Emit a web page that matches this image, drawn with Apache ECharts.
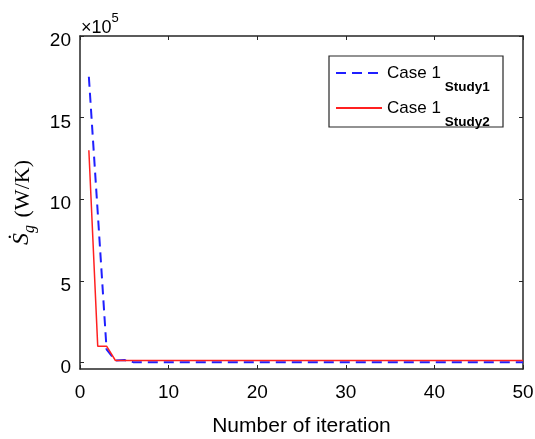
<!DOCTYPE html>
<html><head><meta charset="utf-8">
<script src="https://cdn.jsdelivr.net/npm/echarts@6/dist/echarts.min.js"></script>
<style>html,body{margin:0;padding:0;background:#fff}#c{width:535px;height:439px}</style>
</head><body><div id="c"></div>
<script>
var iterations = [1,2,3,4,5,6,7,8,9,10,11,12,13,14,15,16,17,18,19,20,21,22,23,24,25,26,27,28,29,30,31,32,33,34,35,36,37,38,39,40,41,42,43,44,45,46,47,48,49,50];
var study1 = [17.5,9.2,0.8,0.12,0.15,0.02,0.02,0.02,0.02,0.02,0.02,0.02,0.02,0.02,0.02,0.02,0.02,0.02,0.02,0.02,0.02,0.02,0.02,0.02,0.02,0.02,0.02,0.02,0.02,0.02,0.02,0.02,0.02,0.02,0.02,0.02,0.02,0.02,0.02,0.02,0.02,0.02,0.02,0.02,0.02,0.02,0.02,0.02,0.02,0.02];
var study2 = [13.0,1.0,1.0,0.12,0.12,0.12,0.12,0.12,0.12,0.12,0.12,0.12,0.12,0.12,0.12,0.12,0.12,0.12,0.12,0.12,0.12,0.12,0.12,0.12,0.12,0.12,0.12,0.12,0.12,0.12,0.12,0.12,0.12,0.12,0.12,0.12,0.12,0.12,0.12,0.12,0.12,0.12,0.12,0.12,0.12,0.12,0.12,0.12,0.12,0.12];
var xTicks = [0,10,20,30,40,50];
var yTicks = [0,5,10,15,20];
var seriesNames = ['Case 1 Study1','Case 1 Study2'];

function pairs(xs, ys){ return xs.map(function(x,i){ return [x, ys[i]]; }); }

var axisCol = '#262626';
var chart = echarts.init(document.getElementById('c'), null, {renderer:'canvas'});
var lbl = {color:'#000', fontFamily:'Liberation Sans, Arial', fontSize:19};
chart.setOption({
  animation:false,
  backgroundColor:'#fff',
  grid:{left:80, right:12, top:36, bottom:70, containLabel:false, outerBoundsMode:'none'},
  xAxis:[{
    type:'value', min:0, max:50, interval:10, position:'bottom',
    axisLine:{show:true, onZero:false, lineStyle:{color:axisCol, width:1.5}},
    axisTick:{show:true, inside:true, length:4, lineStyle:{color:axisCol}},
    axisLabel:Object.assign({margin:14}, lbl),
    splitLine:{show:false},
    name:'Number of iteration', nameLocation:'middle', nameGap:47,
    nameTextStyle:{color:'#000', fontFamily:'Liberation Sans, Arial', fontSize:21}
  },{
    type:'value', min:0, max:50, interval:10, position:'top',
    axisLine:{show:true, onZero:false, lineStyle:{color:axisCol, width:1.5}},
    axisTick:{show:true, inside:true, length:4, lineStyle:{color:axisCol}},
    axisLabel:{show:false}, splitLine:{show:false}
  }],
  yAxis:[{
    type:'value', min:-0.4, max:20, position:'left',
    axisLine:{show:true, onZero:false, lineStyle:{color:axisCol, width:1.5}},
    axisTick:{show:true, inside:true, length:4, customValues:yTicks, lineStyle:{color:axisCol}},
    axisLabel:{margin:9, customValues:yTicks,
      formatter:function(v){ return '{v|' + v + '}'; },
      rich:{v:{color:'#000', fontFamily:'Liberation Sans, Arial', fontSize:19, padding:[10,0,0,0]}}},
    splitLine:{show:false},
    name:'{s|\u1E60}{g|g}{u| (W/K)}', nameLocation:'middle', nameGap:40, nameRotate:90,
    nameTextStyle:{rich:{
      s:{fontFamily:'Liberation Serif, Times New Roman', fontStyle:'italic', fontSize:24, color:'#000', verticalAlign:'top', lineHeight:30},
      g:{fontFamily:'Liberation Serif, Times New Roman', fontStyle:'italic', fontSize:16, color:'#000', verticalAlign:'top', lineHeight:30, padding:[12,2,0,0]},
      u:{fontFamily:'Liberation Serif, Times New Roman', fontSize:22, color:'#000', verticalAlign:'top', lineHeight:30, padding:[2,0,0,0]}
    }}
  },{
    type:'value', min:-0.4, max:20, position:'right',
    axisLine:{show:true, onZero:false, lineStyle:{color:axisCol, width:1.5}},
    axisTick:{show:true, inside:true, length:4, customValues:yTicks, lineStyle:{color:axisCol}},
    axisLabel:{show:false}, splitLine:{show:false}
  }],
  legend:{
    show:true, orient:'vertical', left:335, top:48,
    backgroundColor:'transparent', borderWidth:0,
    padding:0, itemGap:-11, itemWidth:46, itemHeight:14,
    itemStyle:{color:'rgba(0,0,0,0)', borderWidth:0},
    data:seriesNames,
    formatter:function(n){ var p = n.split(' '); return '{a|' + p[0] + ' ' + p[1] + '}{b|' + p[2] + '}'; },
    textStyle:{rich:{
      a:{fontFamily:'Liberation Sans, Arial', fontSize:17, color:'#000', verticalAlign:'middle', lineHeight:50},
      b:{fontFamily:'Liberation Sans, Arial', fontSize:13.5, fontWeight:'bold', color:'#000', verticalAlign:'top', lineHeight:20, padding:[32,0,0,4]}
    }}
  },
  graphic:[{
    type:'rect', z:3, shape:{x:329, y:56, width:174, height:71},
    style:{fill:'#fff', stroke:axisCol, lineWidth:1.2}
  },{
    type:'text', left:81, top:12,
    style:{rich:{
      m:{fontFamily:'Liberation Sans, Arial', fontSize:18, fill:'#000', verticalAlign:'top', lineHeight:24, padding:[7,0,0,0]},
      e:{fontFamily:'Liberation Sans, Arial', fontSize:13, fill:'#000', verticalAlign:'top', lineHeight:24}
    }, text:'{m|\u00D710}{e|5}'}
  }],
  series:[{
    name:seriesNames[0], type:'line', showSymbol:false, symbol:'none',
    data:pairs(iterations, study1),
    lineStyle:{color:'#1f1fff', width:2, type:[10,6]}, itemStyle:{color:'#1f1fff'}, z:2
  },{
    name:seriesNames[1], type:'line', showSymbol:false, symbol:'none',
    data:pairs(iterations, study2),
    lineStyle:{color:'#ff2020', width:1.5}, itemStyle:{color:'#ff2020'}, z:3
  }]
});
</script></body></html>
